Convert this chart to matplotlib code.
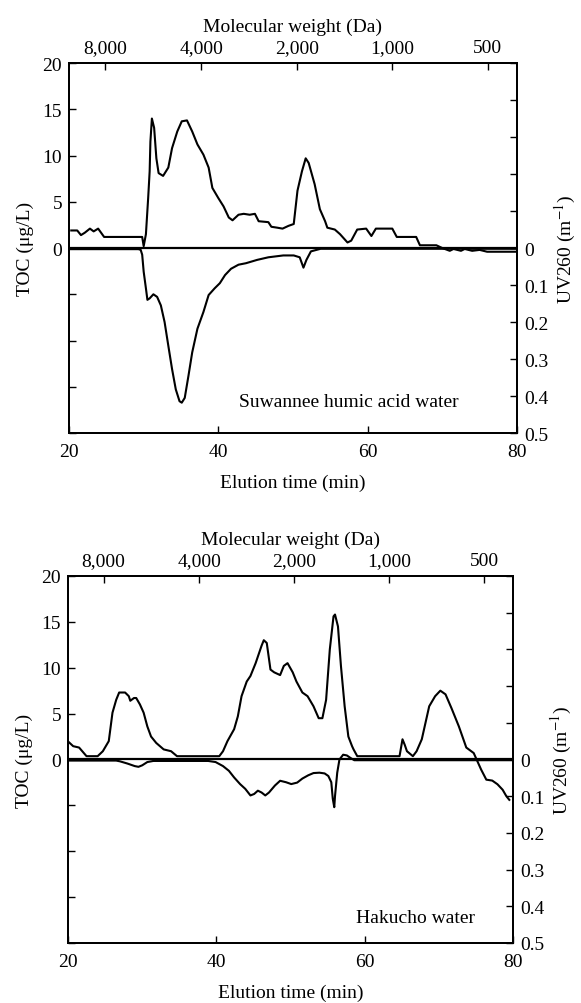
import matplotlib.pyplot as plt

plt.rcParams.update({
    'font.family': ['Liberation Serif', 'DejaVu Serif'],
    'font.size': 14,
    'mathtext.fontset': 'stix',
})

# top axis: molecular weight marks (elution time, min)
mw_time = [24.8, 37.7, 50.5, 63.3, 76.1]
mw_labels = ['8,000', '4,000', '2,000', '1,000', '500']

# Suwannee humic acid water
suw_toc_t = [20.3, 21.1, 21.6, 22.1, 22.8, 23.3, 23.9, 24.3, 24.7, 25.8, 29.8, 30.0,
             30.3, 30.6, 30.8, 30.9, 31.1, 31.4, 31.7, 32.0, 32.6, 33.3, 33.8, 34.5,
             35.1, 35.8, 36.5, 37.2, 38.0, 38.7, 39.2, 40.0, 40.7, 41.4, 41.9, 42.7,
             43.4, 44.2, 44.9, 45.4, 46.7, 47.1, 47.9, 48.6, 49.4, 50.1, 50.6, 51.2,
             51.7, 52.1, 52.9, 53.6, 54.3, 54.6, 55.6, 56.3, 57.3, 57.8, 58.6, 59.8,
             60.5, 61.1, 63.3, 63.9, 66.5, 67.0, 69.2, 70.0, 71.0, 71.5, 72.5, 73.0,
             74.0, 75.0, 76.0, 79.9]
suw_toc = [1.9, 1.9, 1.4, 1.65, 2.1, 1.8, 2.1, 1.65, 1.2, 1.2, 1.2, 0.2,
           1.5, 5.4, 8.3, 11.5, 14.0, 13.0, 9.7, 8.1, 7.8, 8.7, 10.8, 12.6,
           13.7, 13.8, 12.6, 11.2, 10.1, 8.7, 6.5, 5.4, 4.5, 3.3, 3.0, 3.6,
           3.7, 3.6, 3.7, 2.9, 2.8, 2.3, 2.2, 2.1, 2.4, 2.6, 6.2, 8.3,
           9.7, 9.2, 6.9, 4.2, 2.9, 2.2, 2.0, 1.5, 0.6, 0.8, 2.0, 2.1,
           1.3, 2.1, 2.1, 1.2, 1.2, 0.3, 0.3, 0.0, -0.3, -0.1, -0.3, -0.1,
           -0.3, -0.2, -0.4, -0.4]
suw_uv_t = [20.0, 29.3, 29.6, 29.8, 30.0, 30.3, 30.5, 30.8, 31.3, 31.8, 32.3, 32.8,
            33.3, 33.8, 34.3, 34.8, 35.1, 35.5, 36.0, 36.5, 37.2, 38.0, 38.7, 39.5,
            40.2, 40.9, 41.7, 42.7, 43.7, 45.2, 46.7, 48.7, 50.1, 50.9, 51.4, 51.8,
            52.4, 53.7, 80.0]
suw_uv = [0.003, 0.003, 0.005, 0.018, 0.064, 0.109, 0.14, 0.136, 0.125, 0.132, 0.155, 0.2,
          0.264, 0.327, 0.382, 0.414, 0.418, 0.405, 0.345, 0.282, 0.218, 0.173, 0.127, 0.109,
          0.095, 0.073, 0.056, 0.045, 0.041, 0.032, 0.025, 0.02, 0.02, 0.025, 0.053, 0.032,
          0.009, 0.002, 0.002]

# Hakucho water
hak_toc_t = [20.1, 20.7, 21.5, 22.5, 24.0, 24.7, 25.5, 26.0, 26.5, 26.9, 27.7, 28.2,
             28.4, 28.9, 29.2, 29.7, 30.2, 30.7, 31.2, 31.9, 32.9, 33.9, 34.7, 40.4,
             40.9, 41.5, 42.4, 42.9, 43.4, 44.1, 44.6, 45.3, 46.1, 46.4, 46.8, 47.3,
             47.8, 48.6, 49.1, 49.6, 50.3, 50.8, 51.6, 52.3, 53.1, 53.8, 54.3, 54.8,
             55.3, 55.8, 56.0, 56.4, 56.8, 57.3, 57.8, 58.3, 58.5, 59.0, 64.7, 65.1,
             65.4, 65.7, 66.5, 67.0, 67.7, 68.7, 69.5, 70.2, 70.9, 71.7, 72.7, 73.7,
             74.7, 75.2, 75.7, 76.4, 77.2, 77.9, 78.6, 79.1, 79.5]
hak_toc = [1.9, 1.45, 1.3, 0.36, 0.36, 0.9, 2.0, 5.1, 6.5, 7.3, 7.3, 6.9,
           6.4, 6.7, 6.7, 6.0, 5.1, 3.6, 2.5, 1.8, 1.1, 0.9, 0.36, 0.36,
           0.9, 2.0, 3.3, 4.7, 6.9, 8.5, 9.1, 10.5, 12.4, 13.0, 12.7, 9.8,
           9.5, 9.2, 10.2, 10.5, 9.5, 8.5, 7.3, 6.9, 5.8, 4.5, 4.5, 6.5,
           12.0, 15.6, 15.8, 14.5, 10.2, 5.8, 2.5, 1.45, 1.1, 0.36, 0.36, 2.2,
           1.6, 0.9, 0.36, 0.9, 2.2, 5.8, 6.9, 7.5, 7.1, 5.6, 3.6, 1.3,
           0.7, -0.2, -1.1, -2.2, -2.3, -2.7, -3.3, -4.0, -4.4]
hak_uv_t = [20.0, 26.5, 27.0, 28.0, 29.0, 29.5, 30.0, 30.7, 31.5, 38.9, 39.9, 40.9,
            41.7, 42.4, 43.2, 43.9, 44.6, 45.1, 45.6, 46.1, 46.6, 47.1, 47.9, 48.6,
            49.4, 50.1, 50.9, 51.6, 52.4, 53.1, 53.9, 54.6, 55.1, 55.5, 55.7, 55.9,
            56.0, 56.3, 56.6, 57.1, 57.6, 58.1, 58.6, 80.0]
hak_uv = [0.003, 0.003, 0.005, 0.011, 0.018, 0.02, 0.016, 0.007, 0.004, 0.004, 0.007, 0.018,
          0.031, 0.049, 0.067, 0.08, 0.098, 0.094, 0.085, 0.09, 0.098, 0.09, 0.071, 0.058,
          0.062, 0.067, 0.063, 0.052, 0.043, 0.037, 0.036, 0.038, 0.045, 0.062, 0.107, 0.13,
          0.10, 0.036, 0.0, -0.013, -0.011, -0.004, 0.002, 0.002]


def panel(rect, toc_t, toc, uv_t, uv, name, name_x, name_y):
    ax = fig.add_axes(rect)
    ax.plot(toc_t, toc, color='black', lw=1.5)
    ax.axhline(0, color='black', lw=1.6)
    ax.set_xlim(20, 80)
    ax.set_ylim(-20, 20)
    ax.set_xticks([20, 40, 60, 80])
    ax.set_yticks(range(-20, 21, 5))
    ax.set_yticklabels(['', '', '', '', '0', '5', '10', '15', '20'])
    ax.tick_params(direction='in', length=5, width=1, pad=5)
    ax.tick_params(axis='x', pad=7)
    ax.set_xlabel('Elution time (min)', labelpad=10)
    ax.set_ylabel('TOC (μg/L)', labelpad=6)

    ax2 = ax.twinx()
    ax2.plot(uv_t, uv, color='black', lw=1.5)
    ax2.set_ylim(0.5, -0.5)
    ax2.set_yticks([-0.5, -0.4, -0.3, -0.2, -0.1, 0, 0.1, 0.2, 0.3, 0.4, 0.5])
    ax2.set_yticklabels(['', '', '', '', '', '0', '0.1', '0.2', '0.3', '0.4', '0.5'])
    ax2.tick_params(direction='in', length=5, width=1, pad=5)
    ax2.set_ylabel('UV260 (m$^{-1}$)', labelpad=3)
    ax2.text(name_x, name_y, name, ha='center', va='center')

    ax3 = ax.twiny()
    ax3.set_xlim(20, 80)
    ax3.set_xticks(mw_time)
    ax3.set_xticklabels(mw_labels)
    ax3.tick_params(direction='in', length=5, width=1, pad=5)
    ax3.set_xlabel('Molecular weight (Da)', labelpad=6)

    for a in (ax, ax2, ax3):
        for s in a.spines.values():
            s.set_linewidth(1.2)


fig = plt.figure(figsize=(5.81, 10.04), dpi=100)
panel([0.1188, 0.5677, 0.771, 0.3685], suw_toc_t, suw_toc, suw_uv_t, suw_uv,
      'Suwannee humic acid water', 57.5, 0.415)
panel([0.117, 0.0598, 0.766, 0.3655], hak_toc_t, hak_toc, hak_uv_t, hak_uv,
      'Hakucho water', 66.8, 0.43)

fig.savefig('out.png', dpi=100)
